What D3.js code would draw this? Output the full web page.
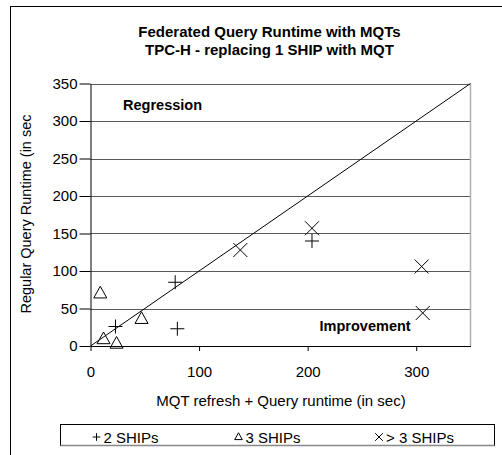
<!DOCTYPE html>
<html>
<head>
<meta charset="utf-8">
<script src="https://cdn.jsdelivr.net/npm/d3@7"></script>
<style>
  html, body { margin: 0; padding: 0; background: #fff; }
  svg { display: block; font-family: "Liberation Sans", Arial, sans-serif; }
</style>
</head>
<body>
<svg id="chart" width="502" height="455"></svg>
<script>
// ---- data ----
const titleLines = ["Federated Query Runtime with MQTs", "TPC-H - replacing 1 SHIP with MQT"];
const xLabel = "MQT refresh + Query runtime (in sec)";
const yLabel = "Regular Query Runtime (in sec";
const xTicks = [0, 100, 200, 300];
const yTicks = [0, 50, 100, 150, 200, 250, 300, 350];
const seriesNames = ["2 SHIPs", "3 SHIPs", "> 3 SHIPs"];
const seriesShapes = ["plus", "triangle", "cross"];
const ships2 = [[23, 26], [78, 85], [80, 23], [204, 140]];
const ships3 = [[9, 70], [12, 9], [24, 3], [47, 36]];
const shipsMore = [[138, 128], [204, 157], [305, 106], [306, 44]];
const diagonal = [0, 350];
const regionLabels = [{text: "Regression", x: 30, y: 315}, {text: "Improvement", x: 211, y: 20}];

// ---- layout ----
const svg = d3.select("#chart");
const L = 90.5, R = 470.5, T = 83.5, B = 346;
const x = d3.scaleLinear().domain([0, 350]).range([L, R]);
const y = d3.scaleLinear().domain([0, 350]).range([B, T]);

// outer border
svg.append("rect").attr("x", 10.5).attr("y", 6.5).attr("width", 600).attr("height", 600)
  .attr("fill", "none").attr("stroke", "#000").attr("stroke-width", 1);

// title
svg.append("g").selectAll("text").data(titleLines).join("text")
  .attr("x", 269.5).attr("y", (d, i) => 36.5 + i * 18.5)
  .attr("text-anchor", "middle").attr("font-size", 15).attr("font-weight", "bold")
  .text(d => d);

// gridlines
svg.append("g").selectAll("line").data(yTicks.filter(v => v > 0)).join("line")
  .attr("x1", L).attr("x2", R)
  .attr("y1", d => Math.round(y(d)) + 0.5).attr("y2", d => Math.round(y(d)) + 0.5)
  .attr("stroke", "#5a5a5a").attr("stroke-width", 1);

// right border of plot (gray)
svg.append("line").attr("x1", R).attr("x2", R).attr("y1", T).attr("y2", B)
  .attr("stroke", "#b0b0b0").attr("stroke-width", 1.5);

// axes
const yAxis = svg.append("g").attr("transform", `translate(${L},0)`)
  .call(d3.axisLeft(y).tickValues(yTicks).tickSizeInner(11).tickSizeOuter(0).tickPadding(2));
const xAxis = svg.append("g").attr("transform", `translate(0,${B})`)
  .call(d3.axisBottom(x).tickValues(xTicks).tickSizeInner(5).tickSizeOuter(0).tickPadding(15));
[yAxis, xAxis].forEach(g => {
  g.selectAll("text").attr("font-size", 15).attr("fill", "#000")
    .attr("font-family", "Liberation Sans, Arial, sans-serif");
  g.selectAll("line, path").attr("stroke", "#000");
});

// axis titles
svg.append("text").attr("x", 281).attr("y", 406).attr("text-anchor", "middle")
  .attr("font-size", 15).text(xLabel);
svg.append("text").attr("transform", "translate(31,214) rotate(-90)").attr("text-anchor", "middle")
  .attr("font-size", 14.5).text(yLabel);

// diagonal
svg.append("line").attr("x1", x(diagonal[0])).attr("y1", y(diagonal[0]))
  .attr("x2", x(diagonal[1])).attr("y2", y(diagonal[1]))
  .attr("stroke", "#000").attr("stroke-width", 1);

// region labels
svg.append("g").selectAll("text").data(regionLabels).join("text")
  .attr("x", d => x(d.x)).attr("y", d => y(d.y))
  .attr("font-size", 14.5).attr("font-weight", "bold").text(d => d.text);

// marker paths
function shapePath(shape, s) {
  if (shape === "plus") return `M${-s},0H${s}M0,${-s}V${s}`;
  if (shape === "cross") return `M${-s},${-s}L${s},${s}M${-s},${s}L${s},${-s}`;
  const h = s * 1.8;
  return `M0,${-h * 0.62}L${s},${h * 0.38}L${-s},${h * 0.38}Z`;
}
const allSeries = [ships2, ships3, shipsMore];
allSeries.forEach((data, i) => {
  svg.append("g").selectAll("path").data(data).join("path")
    .attr("transform", d => `translate(${x(d[0])},${y(d[1])})`)
    .attr("d", shapePath(seriesShapes[i], seriesShapes[i] === "triangle" ? 6.5 : 7))
    .attr("fill", "none").attr("stroke", "#000").attr("stroke-width", 1);
});

// legend
const leg = svg.append("g");
leg.append("rect").attr("x", 60.5).attr("y", 424.5).attr("width", 434).attr("height", 21)
  .attr("fill", "#fff").attr("stroke", "#000").attr("stroke-width", 1);
leg.append("line").attr("x1", 60.5).attr("x2", 494.5).attr("y1", 445.5).attr("y2", 445.5)
  .attr("stroke", "#888").attr("stroke-width", 1.5);
const legX = [96.5, 238.5, 379];
seriesNames.forEach((name, i) => {
  leg.append("path").attr("transform", `translate(${legX[i]},437)`)
    .attr("d", shapePath(seriesShapes[i], 3.8))
    .attr("fill", "none").attr("stroke", "#000").attr("stroke-width", 1);
  leg.append("text").attr("x", legX[i] + 7).attr("y", 442.5).attr("font-size", 15).text(name);
});
</script>
</body>
</html>
